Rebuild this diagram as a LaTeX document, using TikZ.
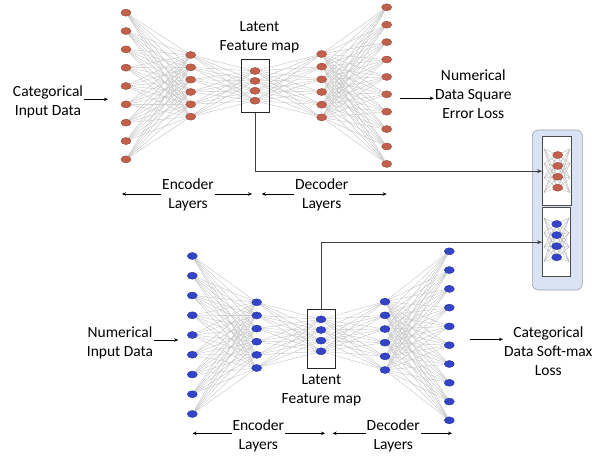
\documentclass[tikz,border=0pt]{standalone}
\usepackage{fontspec}
\setmainfont{Carlito}
\usetikzlibrary{shapes.geometric,backgrounds,arrows.meta}

\definecolor{nodered}{HTML}{C2604B}
\definecolor{nodeblue}{HTML}{3344C8}
\definecolor{panelblue}{HTML}{DAE3F3}

\tikzset{
  rnode/.style={ellipse,fill=nodered,draw=nodered!75!black,line width=0.4pt,
    minimum width=10pt,minimum height=7pt,inner sep=0pt},
  bnode/.style={rnode,fill=nodeblue,draw=nodeblue!75!black},
  edge/.style={gray!50,line width=0.35pt},
  latentbox/.style={draw=black!85,line width=0.7pt,minimum width=28pt,inner sep=0pt},
  lbl/.style={align=center,font=\fontsize{15.5}{19}\selectfont,inner sep=1pt},
  arr/.style={-{Stealth[length=4pt,width=3.5pt]},line width=0.6pt},
  darr/.style={{Stealth[length=4pt,width=3.5pt]}-{Stealth[length=4pt,width=3.5pt]},line width=0.6pt},
  link/.style={-{Stealth[length=5pt,width=4pt]},draw=black!75,line width=0.7pt}
}

\begin{document}
\begin{tikzpicture}[x=1pt,y=-1pt]
  \useasboundingbox (0,0) rectangle (603,460);

  % Top autoencoder (categorical input)
  \foreach \i in {0,...,8} \node[rnode] (a1-\i) at (126,12.7+\i*18.33) {};
  \foreach \i in {0,...,5} \node[rnode] (a2-\i) at (190.7,55+\i*12.33) {};
  \foreach \i in {0,...,3} \node[rnode] (a3-\i) at (255,71+\i*9.9) {};
  \foreach \i in {0,...,5} \node[rnode] (a4-\i) at (321.7,54+\i*12.67) {};
  \foreach \i in {0,...,9} \node[rnode] (a5-\i) at (386.7,7.3+\i*17.4) {};
  \node[latentbox,minimum height=53.4pt] (topbox) at (255.2,86) {};

  % Bottom autoencoder (numerical input)
  \foreach \i in {0,...,8} \node[bnode] (b1-\i) at (192.3,256+\i*19.75) {};
  \foreach \i in {0,...,5} \node[bnode] (b2-\i) at (256.7,302.3+\i*13.14) {};
  \foreach \i in {0,...,3} \node[bnode] (b3-\i) at (321,319.3+\i*10.67) {};
  \foreach \i in {0,...,5} \node[bnode] (b4-\i) at (385,301.7+\i*13.66) {};
  \foreach \i in {0,...,9} \node[bnode] (b5-\i) at (449.3,251.3+\i*18.78) {};
  \node[latentbox,minimum height=58.7pt] (botbox) at (321.7,338.7) {};

  % connections between layers
  \begin{pgfonlayer}{background}
    \foreach \i in {0,...,8} \foreach \j in {0,...,5} {
      \draw[edge] (a1-\i) -- (a2-\j);
      \draw[edge] (b1-\i) -- (b2-\j);
    }
    \foreach \i in {0,...,5} \foreach \j in {0,...,3} {
      \draw[edge] (a2-\i) -- (a3-\j);
      \draw[edge] (b2-\i) -- (b3-\j);
      \draw[edge] (a3-\j) -- (a4-\i);
      \draw[edge] (b3-\j) -- (b4-\i);
    }
    \foreach \i in {0,...,5} \foreach \j in {0,...,9} {
      \draw[edge] (a4-\i) -- (a5-\j);
      \draw[edge] (b4-\i) -- (b5-\j);
    }
  \end{pgfonlayer}

  % Combined latent panel
  \node[draw=panelblue!60!black!80,fill=panelblue,rounded corners=6pt,line width=0.6pt,
    minimum width=50pt,minimum height=160pt] (panel) at (557.3,210) {};
  \node[draw=black!70,fill=white,line width=0.6pt,minimum width=28.7pt,minimum height=69pt]
    (inbox1) at (556.7,171.2) {};
  \node[draw=black!70,fill=white,line width=0.6pt,minimum width=27.7pt,minimum height=69pt]
    (inbox2) at (556.2,242.2) {};
  \foreach \i in {0,...,3} {
    \coordinate (ml-\i) at (544,149+\i*14.5);
    \coordinate (mr-\i) at (570,149+\i*14.5);
    \coordinate (nl-\i) at (544,218+\i*14.5);
    \coordinate (nr-\i) at (569,218+\i*14.5);
    \coordinate (mc-\i) at (557.7,155+\i*10.9);
    \coordinate (nc-\i) at (556.7,224+\i*11.1);
  }
  \foreach \i in {0,...,3} \foreach \j in {0,...,3} {
    \draw[edge,gray!60] (ml-\i) -- (mc-\j) -- (mr-\i);
    \draw[edge,gray!60] (nl-\i) -- (nc-\j) -- (nr-\i);
  }
  \foreach \i in {0,...,3} {
    \node[rnode] (m-\i) at (mc-\i) {};
    \node[bnode] (n-\i) at (nc-\i) {};
  }

  % latent feature maps to the panel
  \draw[link] (topbox.south) |- (inbox1.west);
  \draw[link] (botbox.north) |- (inbox2.west);

  % Labels, inputs and outputs
  \node[lbl] (toplat) at (259.5,37) {Latent\\Feature map};
  \node[lbl] (botlat) at (321.5,390) {Latent\\Feature map};

  \node[lbl] (tin) at (48,102.3) {Categorical\\Input Data};
  \coordinate (tinend) at (108,99.3);
  \draw[arr] (tin.east |- tinend) -- (tinend);
  \node[lbl] (tout) at (473.3,94.3) {Numerical\\Data Square\\Error Loss};
  \coordinate (toutstart) at (400,98.3);
  \draw[arr] (toutstart) -- (tout.west |- toutstart);

  \node[lbl] (bin) at (120,342.5) {Numerical\\Input Data};
  \coordinate (binend) at (178.3,340);
  \draw[arr] (bin.east |- binend) -- (binend);
  \node[lbl] (bout) at (548.3,350.7) {Categorical\\Data Soft-max\\Loss};
  \coordinate (boutstart) at (470,339.3);
  \draw[arr] (boutstart) -- (bout.west |- boutstart);

  % Encoder / decoder extents
  \coordinate (te1) at (122,194);   \coordinate (te2) at (252,194);
  \coordinate (td1) at (261.7,194); \coordinate (td2) at (386.7,194);
  \draw[darr] (te1) -- (te2);
  \draw[darr] (td1) -- (td2);
  \node[lbl,fill=white] (tenc) at (188,195.3) {Encoder\\Layers};
  \node[lbl,fill=white] (tdec) at (321.7,195.3) {Decoder\\Layers};

  \coordinate (be1) at (192.7,433.3); \coordinate (be2) at (325,433.3);
  \coordinate (bd1) at (332.7,433.3); \coordinate (bd2) at (452,433.3);
  \draw[darr] (be1) -- (be2);
  \draw[darr] (bd1) -- (bd2);
  \node[lbl,fill=white] (benc) at (258.3,435.5) {Encoder\\Layers};
  \node[lbl,fill=white] (bdec) at (393.3,435.5) {Decoder\\Layers};
\end{tikzpicture}
\end{document}
